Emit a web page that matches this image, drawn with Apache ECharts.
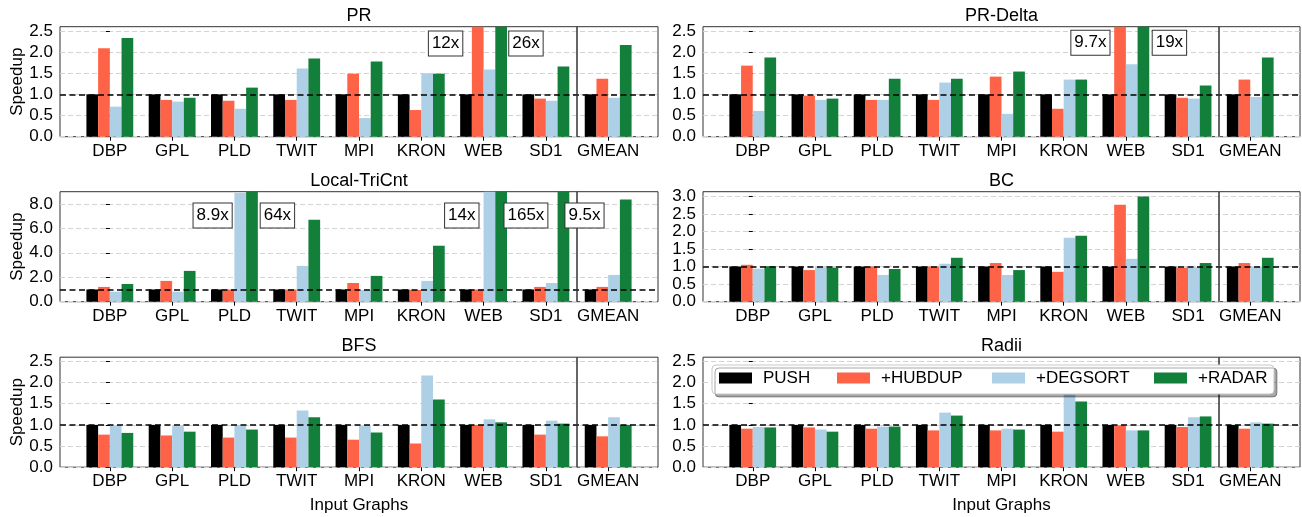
<!DOCTYPE html>
<html><head><meta charset="utf-8">
<script src="https://cdn.jsdelivr.net/npm/echarts@6/dist/echarts.min.js"></script>
<style>html,body{margin:0;padding:0;background:#fff}#c{width:1302px;height:517px}</style>
</head><body><div id="c"></div>
<script>
// ---------- data ----------
const categories = ['DBP','GPL','PLD','TWIT','MPI','KRON','WEB','SD1','GMEAN'];
const seriesNames = ['PUSH','+HUBDUP','+DEGSORT','+RADAR'];
const panelTitles = ['PR','PR-Delta','Local-TriCnt','BC','BFS','Radii'];

const pushBaseline = [1,1,1,1,1,1,1,1,1];

const prHubdup  = [2.09,0.87,0.85,0.87,1.49,0.63,12,0.90,1.37];
const prDegsort = [0.71,0.83,0.66,1.61,0.44,1.50,1.59,0.85,0.92];
const prRadar   = [2.33,0.92,1.16,1.85,1.78,1.49,26,1.66,2.17];

const prdHubdup  = [1.68,0.97,0.87,0.87,1.42,0.66,9.7,0.92,1.35];
const prdDegsort = [0.61,0.87,0.87,1.28,0.54,1.35,1.71,0.90,0.94];
const prdRadar   = [1.87,0.90,1.37,1.37,1.54,1.35,19,1.21,1.87];

const tcHubdup  = [1.21,1.70,1.00,1.00,1.53,0.96,1.00,1.21,1.21];
const tcDegsort = [0.82,0.82,8.9,2.93,0.96,1.70,14,1.53,2.19];
const tcRadar   = [1.45,2.52,64,6.71,2.11,4.58,165,9.5,8.36];

const bcHubdup  = [1.05,0.90,1.00,1.00,1.10,0.85,2.76,0.97,1.10];
const bcDegsort = [0.94,0.98,0.76,1.08,0.76,1.82,1.22,0.98,1.00];
const bcRadar   = [1.01,0.97,0.93,1.25,0.90,1.88,2.99,1.10,1.25];

const bfsHubdup  = [0.77,0.75,0.70,0.70,0.65,0.56,1.00,0.77,0.73];
const bfsDegsort = [0.99,0.97,1.00,1.34,0.99,2.17,1.13,1.10,1.18];
const bfsRadar   = [0.81,0.84,0.89,1.18,0.82,1.60,1.06,1.03,1.00];

const radHubdup  = [0.91,0.94,0.91,0.87,0.87,0.84,0.99,0.95,0.91];
const radDegsort = [0.95,0.89,0.96,1.29,0.91,1.72,0.87,1.18,1.06];
const radRadar   = [0.94,0.84,0.96,1.22,0.89,1.55,0.87,1.20,1.03];

const ticksSpeedup = [0,0.5,1,1.5,2,2.5];
const ticksTriCnt  = [0,2,4,6,8];
const ticksBC      = [0,0.5,1,1.5,2,2.5,3];

// annotated (clipped) bars: [panel, series, category]
const annotatedBars = [[0,1,6],[0,3,6],[1,1,6],[1,3,6],[2,2,2],[2,3,2],[2,2,6],[2,3,6],[2,3,7]];

// ---------- layout / style ----------
const panelData = [
  [pushBaseline, prHubdup, prDegsort, prRadar],
  [pushBaseline, prdHubdup, prdDegsort, prdRadar],
  [pushBaseline, tcHubdup, tcDegsort, tcRadar],
  [pushBaseline, bcHubdup, bcDegsort, bcRadar],
  [pushBaseline, bfsHubdup, bfsDegsort, bfsRadar],
  [pushBaseline, radHubdup, radDegsort, radRadar]
];
const panelTicks = [ticksSpeedup, ticksSpeedup, ticksTriCnt, ticksBC, ticksSpeedup, ticksSpeedup];
const panelMax = [2.6, 2.6, 9.0, 3.13, 2.6, 2.6];
const panelInterval = [0.5, 0.5, 2, 0.5, 0.5, 0.5];
const colors = ['#000000','#ff6347','#add0e6','#127f3b'];
const FONT = 'Liberation Sans';
const colLeft = [60, 703], colWidth = [598, 597];
const rowTop = [26.7, 191.7, 357.2], rowH = 110;
const XMIN = -0.8, XMAX = 8.8;
// annotation placement: [dx in category units, y value]
const annotPos = [[-0.61,2.2],[0.68,2.2],[-0.57,2.22],[0.70,2.22],[-0.35,7.05],[0.69,7.05],[-0.35,7.05],[0.68,7.05],[0.62,7.05]];

const grid = [], xAxis = [], yAxis = [], series = [], graphic = [];
panelTitles.forEach((title, p) => {
  const col = p % 2, row = Math.floor(p / 2);
  const L = colLeft[col], W = colWidth[col], T = rowTop[row];
  const band = W / (XMAX - XMIN);
  const innerL = L + (0 - XMIN - 0.5) * band;
  const innerW = categories.length * band;
  const og = 2 * p, ig = 2 * p + 1;
  grid.push({left: L, top: T, width: W, height: rowH, show: true, borderColor: '#333', borderWidth: 1, backgroundColor: 'transparent'});
  grid.push({left: innerL, top: T, width: innerW, height: rowH});
  xAxis.push({gridIndex: og, type: 'value', min: XMIN, max: XMAX, show: false});
  xAxis.push({gridIndex: ig, type: 'category', data: categories,
    axisLine: {show: false},
    axisTick: {show: true, alignWithLabel: true, length: 4, lineStyle: {color: '#000'}},
    axisLabel: {interval: 0, fontSize: 17, color: '#000', margin: 6, fontFamily: FONT},
    name: row === 2 ? 'Input Graphs' : '', nameLocation: 'middle', nameGap: 30,
    nameTextStyle: {fontSize: 17, color: '#000', fontFamily: FONT}});
  const ticks = panelTicks[p];
  yAxis.push({gridIndex: og, type: 'value', min: 0, max: panelMax[p], interval: panelInterval[p],
    axisLine: {show: false},
    axisTick: {show: true, length: 4, lineStyle: {color: '#000'}, customValues: ticks},
    axisLabel: {customValues: ticks, formatter: v => v.toFixed(1), fontSize: 17, color: '#000', margin: 7, fontFamily: FONT},
    splitLine: {show: true, lineStyle: {color: '#d3d3d3', type: [5, 3], width: 1}},
    name: col === 0 ? 'Speedup' : '', nameLocation: 'middle', nameGap: 32,
    nameTextStyle: {fontSize: 17, color: '#000', fontFamily: FONT}});
  yAxis.push({gridIndex: ig, type: 'value', min: 0, max: panelMax[p], show: false});

  panelData[p].forEach((vals, s) => {
    series.push({type: 'bar', name: seriesNames[s], xAxisIndex: ig, yAxisIndex: ig,
      data: vals, barWidth: '18.8%', barGap: '0%', clip: true, silent: true,
      itemStyle: {color: colors[s]}, z: 2});
  });

  const marks = [];
  annotatedBars.forEach((a, k) => {
    if (a[0] !== p) return;
    const v = panelData[p][a[1]][a[2]];
    marks.push({name: v + 'x', coord: [a[2] + annotPos[k][0], annotPos[k][1]]});
  });
  series.push({type: 'line', xAxisIndex: og, yAxisIndex: og, data: [], silent: true,
    markLine: {silent: true, symbol: 'none', z: 5, animation: false, label: {show: false},
      data: [
        {yAxis: 1, lineStyle: {type: [6, 3.5], color: '#000', width: 1.5}},
        {xAxis: 7.5, lineStyle: {type: 'solid', color: '#333', width: 1.5}}
      ]},
    markPoint: {silent: true, z: 6, animation: false, symbol: 'rect', symbolSize: 1,
      itemStyle: {color: 'rgba(0,0,0,0)'},
      label: {show: true, position: 'inside', formatter: '{b}', fontSize: 17, color: '#000', fontFamily: FONT,
        backgroundColor: '#fff', borderColor: '#333', borderWidth: 1, padding: [4, 3, 3, 3]},
      data: marks}
  });

  graphic.push({type: 'text', x: L + W / 2, y: T - 11, z: 50,
    style: {text: title, textAlign: 'center', textVerticalAlign: 'middle', fontSize: 18, fontFamily: FONT, fill: '#000'}});
});

graphic.push({type: 'rect', z: 100, shape: {x: 712, y: 365, width: 562, height: 29, r: 4},
  style: {fill: '#fff', stroke: '#c8c8c8', lineWidth: 1, shadowColor: 'rgba(0,0,0,0.35)', shadowOffsetX: 3, shadowOffsetY: 3, shadowBlur: 0}});

const legendLefts = [719, 837, 992, 1154];
const legend = seriesNames.map((n, i) => ({
  data: [n], left: legendLefts[i], top: 369.5, padding: 0, itemWidth: 33, itemHeight: 11, icon: 'rect',
  selectedMode: false, z: 101,
  textStyle: {fontSize: 17, color: '#000', fontFamily: FONT, padding: [0, 0, 0, 6]}
}));

const chart = echarts.init(document.getElementById('c'), null, {renderer: 'canvas'});
chart.setOption({animation: false, grid, xAxis, yAxis, series, legend, graphic});
</script></body></html>
